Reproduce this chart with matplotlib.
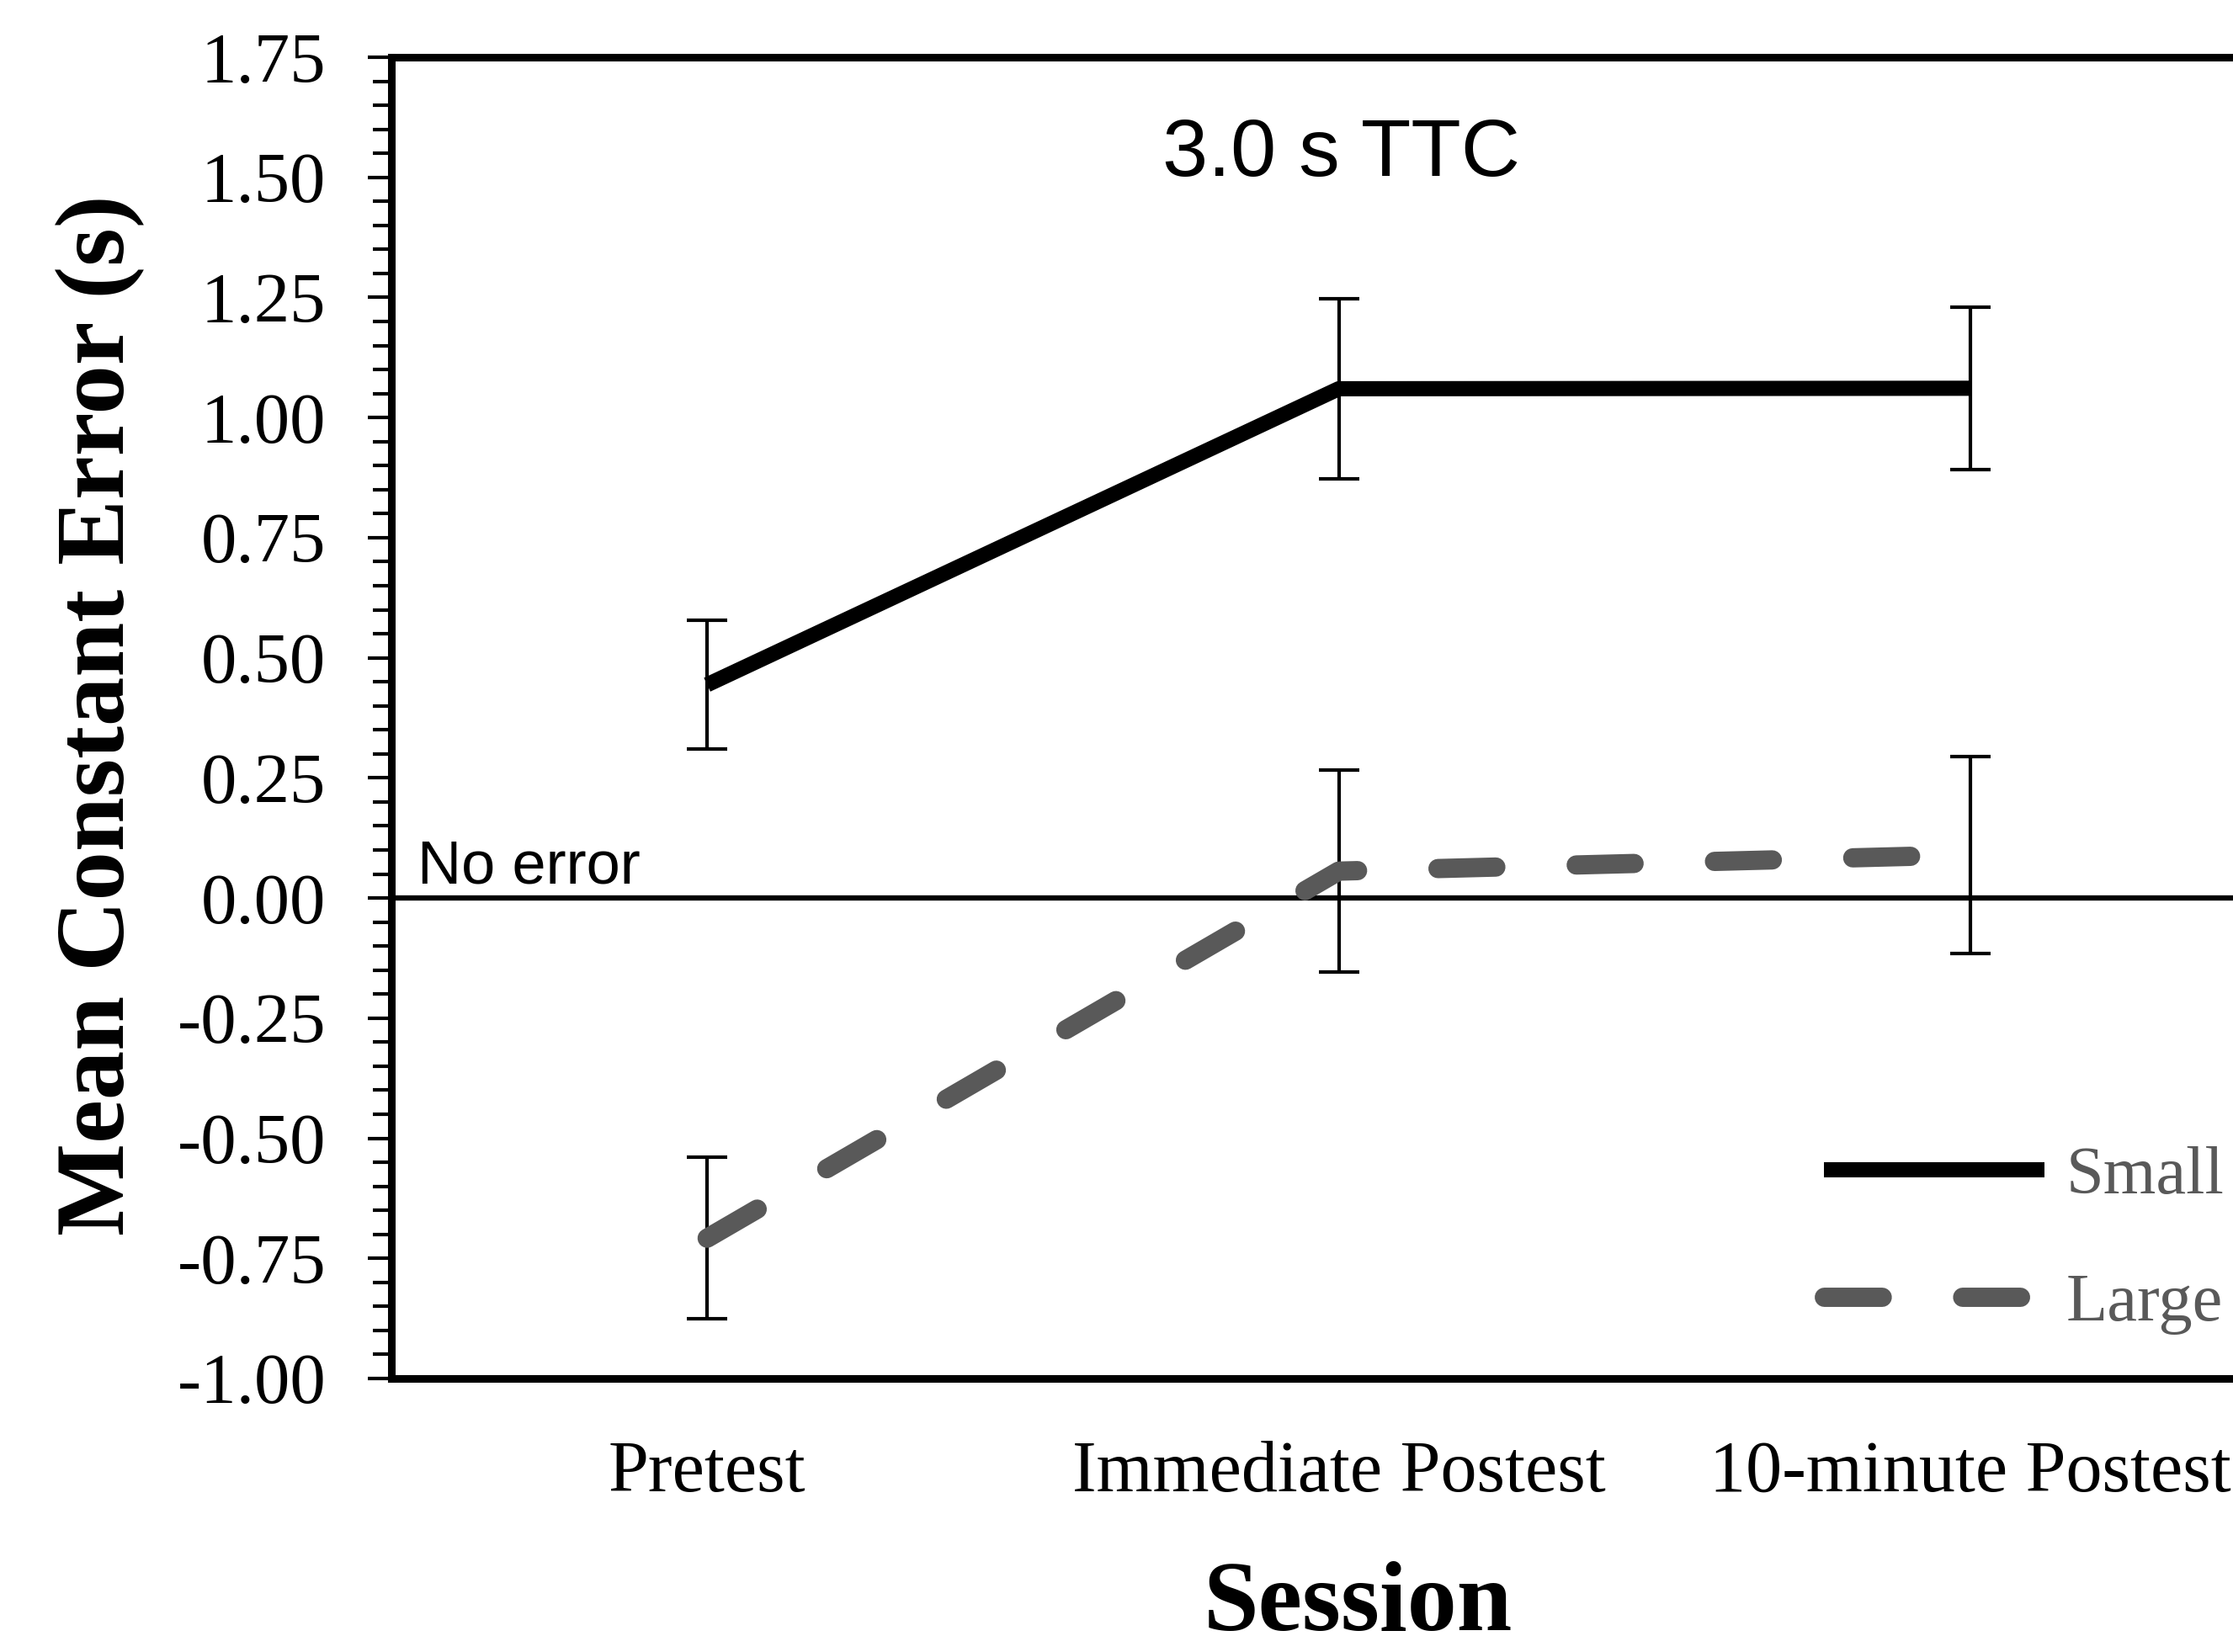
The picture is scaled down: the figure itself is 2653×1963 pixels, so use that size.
import matplotlib
matplotlib.use("Agg")
import matplotlib.pyplot as plt
import numpy as np
from matplotlib.ticker import MultipleLocator, FixedLocator

# ---- data ----
sessions = ["Pretest", "Immediate Postest", "10-minute Postest"]
small_mean = [0.444, 1.060, 1.061]
small_err = [0.134, 0.188, 0.169]
large_mean = [-0.708, 0.056, 0.090]
large_err = [0.168, 0.210, 0.205]
series_labels = ["Small", "Large"]
title_text = "3.0 s TTC"
ylabel_text = "Mean Constant Error (s)"
xlabel_text = "Session"
zero_label = "No error"
yticks = [-1.00, -0.75, -0.50, -0.25, 0.00, 0.25, 0.50, 0.75, 1.00, 1.25, 1.50, 1.75]

W, H = 2653, 1963
DPI = 100
serif = "Liberation Serif"
sans = "Liberation Sans"
grey = "#595959"

fig = plt.figure(figsize=(W / DPI, H / DPI), dpi=DPI)
ax = fig.add_axes([465 / W, 1 - 1638 / H, (2716 - 465) / W, (1638 - 68) / H])

x = np.arange(len(sessions)) + 0.5

# zero line
ax.axhline(0, color="black", lw=4.5, zorder=1)

# error bars
ax.errorbar(x, small_mean, yerr=small_err, fmt="none", ecolor="black",
            elinewidth=3, capsize=17, capthick=3, zorder=2)
ax.errorbar(x, large_mean, yerr=large_err, fmt="none", ecolor="black",
            elinewidth=3, capsize=17, capthick=3, zorder=2)

# lines
l1, = ax.plot(x, small_mean, color="black", lw=13, solid_capstyle="butt",
              solid_joinstyle="round", zorder=3, label=series_labels[0])
l2, = ax.plot(x, large_mean, color=grey, lw=16.5, dash_capstyle="round",
              zorder=3, label=series_labels[1])
l2.set_dashes((3.0, 4.17))

ax.set_xlim(0, 3)
ax.set_ylim(-1.0, 1.75)

ax.yaxis.set_major_locator(FixedLocator(yticks))
ax.yaxis.set_minor_locator(MultipleLocator(0.05))
ax.set_yticklabels([f"{v:.2f}" for v in yticks], fontfamily=serif, fontsize=61)
ax.tick_params(axis="y", which="major", direction="out", length=20, width=3, pad=36)
ax.tick_params(axis="y", which="minor", direction="out", length=16, width=3)

ax.set_xticks(x)
ax.set_xticklabels(sessions, fontfamily=serif, fontsize=62)
ax.tick_params(axis="x", which="both", length=0, pad=53)

for s in ["left", "bottom", "top", "right"]:
    ax.spines[s].set_linewidth(6.5)
    ax.spines[s].set_color("black")

# texts
ax.text(1594 / W, 1 - 184 / H, title_text, transform=fig.transFigure,
        fontfamily=sans, fontsize=70, ha="center", va="center")
ax.text(496 / W, 1 - 1049 / H, zero_label, transform=fig.transFigure,
        fontfamily=sans, fontsize=52, ha="left", va="baseline")
fig.text(118 / W, 1 - 850 / H, ylabel_text, rotation=90, fontfamily=serif,
         fontweight="bold", fontsize=84, ha="center", va="center")
fig.text(1613 / W, 26 / H, xlabel_text, fontfamily=serif, fontweight="bold",
         fontsize=85, ha="center", va="baseline")

leg = ax.legend(handles=[l1, l2], loc="upper left",
                bbox_to_anchor=(2167 / W, 1 - 1362 / H),
                bbox_transform=fig.transFigure, frameon=False,
                prop={"family": serif, "size": 58}, labelcolor=grey,
                handlelength=3.25, handletextpad=0.32, labelspacing=0.96,
                borderpad=0, borderaxespad=0)

fig.savefig("out.png", dpi=DPI)
